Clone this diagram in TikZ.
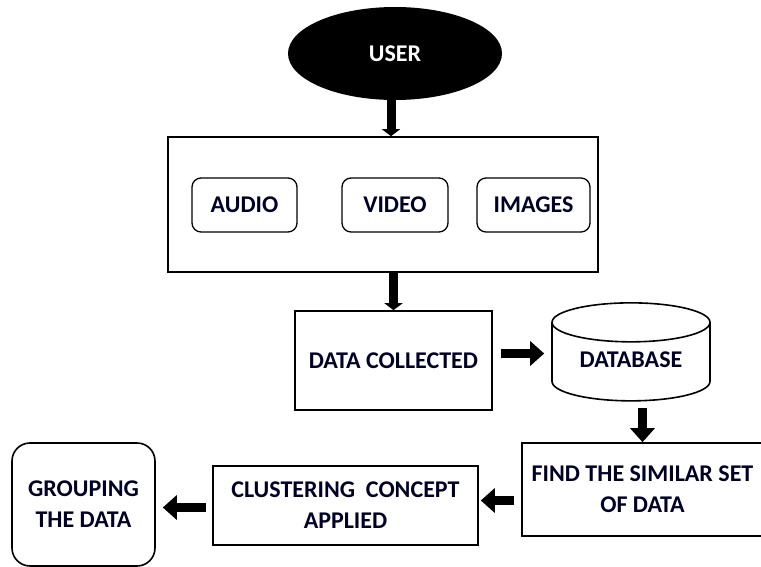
\documentclass[tikz,border=0pt]{standalone}
\usepackage{fontspec}
\setmainfont{Carlito}
\usetikzlibrary{arrows.meta,shapes.geometric}

\begin{document}
\begin{tikzpicture}[x=1pt,y=-1pt,
      box_st/.style={
         rectangle,
         draw=black,
         line width=1.6pt,
         inner sep=0pt,
         align=center,
         text=black!85!blue,
         font=\bfseries\fontsize{24}{31}\selectfont},
      media_box/.style={
         box_st,
         rounded corners=9pt,
         line width=1.3pt,
         minimum height=54pt},
      user_node/.style={
         ellipse,
         fill=black,
         text=white,
         inner sep=0pt,
         minimum width=214pt,
         minimum height=93pt,
         font=\bfseries\fontsize{24}{31}\selectfont},
      db_node/.style={
         box_st,
         cylinder,
         shape border rotate=90,
         aspect=0.38,
         minimum width=158pt,
         minimum height=98pt},
      arrow_fat/.style={
         -{Triangle[width=24pt,length=14pt]},
         line width=9pt},
      arrow_short/.style={
         -{Triangle[width=18pt,length=7pt]},
         line width=9pt}
]
      \useasboundingbox (0,0) rectangle (761,567);

      %user and media
      \node[user_node] (user) at (395,53.5) {USER};
      \node[box_st,minimum width=430pt,minimum height=135pt] (media) at (383,204.5) {};
      \node[media_box,minimum width=105pt] (audio) at (244.5,205) {AUDIO};
      \node[media_box,minimum width=106pt] (video) at (395,205) {VIDEO};
      \node[media_box,minimum width=113pt] (images) at (533.5,205) {IMAGES};

      %collection and storage
      \node[box_st,minimum width=197pt,minimum height=99pt] (data) at (393.5,360.5) {DATA COLLECTED};
      \node[db_node] (db) at (631,362) {\raisebox{5pt}{DATABASE}};

      %processing
      \node[box_st,minimum width=241pt,minimum height=93pt] (find) at (642.5,489.5) {FIND THE SIMILAR SET\\OF DATA};
      \node[box_st,minimum width=265pt,minimum height=79pt] (clust) at (345.5,505.5) {CLUSTERING\ \ CONCEPT\\APPLIED};
      \node[box_st,rounded corners=18pt,minimum width=143pt,minimum height=123pt] (group) at (83.5,504.5) {GROUPING\\THE DATA};

      \draw[arrow_short] ([xshift=-4pt]user.south) -- ([xshift=-4pt]user.south |- media.north);
      \draw[arrow_short] (data.north |- media.south) -- (data.north);
      \draw[arrow_fat,shorten <=8pt,shorten >=7pt] ([yshift=7pt]data.east) -- ([yshift=7pt]data.east -| db.west);
      \draw[arrow_fat,shorten <=6pt] (db.south -| find.north) -- (find.north);
      \draw[arrow_fat,shorten <=7pt,shorten >=2pt] ([yshift=5pt]find.west |- clust.east) -- ([yshift=5pt]clust.east);
      \draw[arrow_fat,shorten <=6pt,shorten >=7pt] ([yshift=-2pt]clust.west) -- ([yshift=-2pt]clust.west -| group.east);

\end{tikzpicture}
\end{document}
